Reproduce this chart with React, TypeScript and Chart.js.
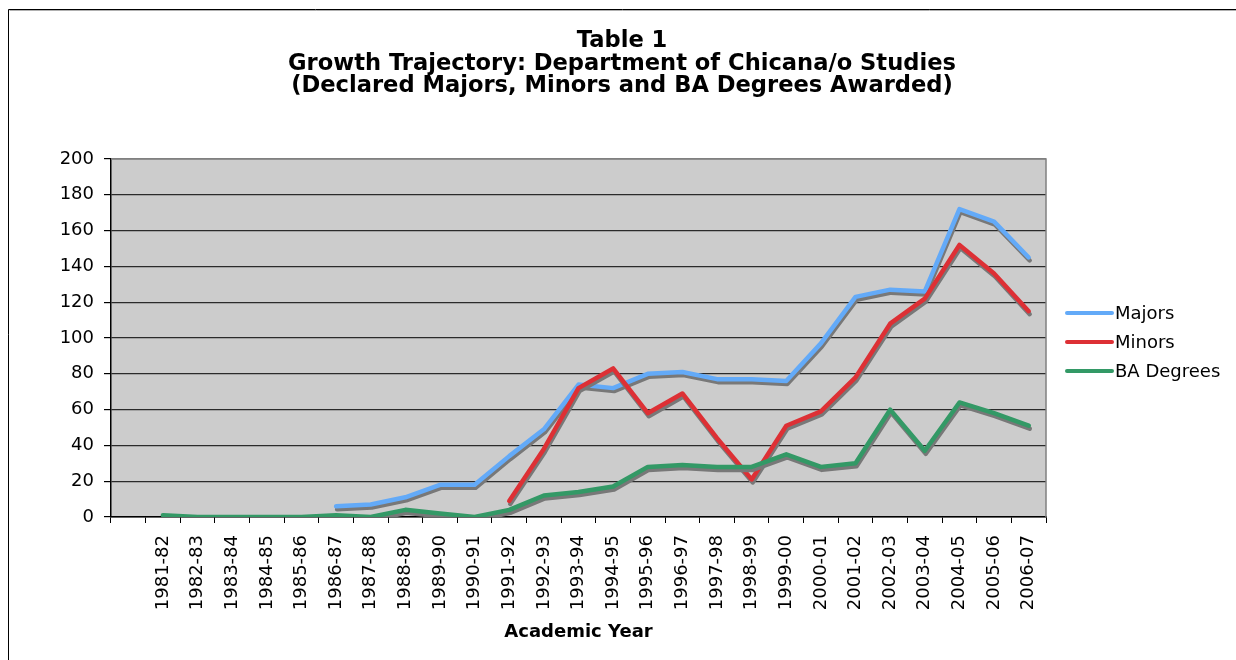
import React, { useEffect, useRef } from "react";
import { Chart, registerables } from "chart.js";

Chart.register(...registerables);

const categories: string[] = [
  "",
  "1981-82", "1982-83", "1983-84", "1984-85", "1985-86", "1986-87", "1987-88",
  "1988-89", "1989-90", "1990-91", "1991-92", "1992-93", "1993-94", "1994-95",
  "1995-96", "1996-97", "1997-98", "1998-99", "1999-00", "2000-01", "2001-02",
  "2002-03", "2003-04", "2004-05", "2005-06", "2006-07",
];

const majors: (number | null)[] = [
  null, null, null, null, null, null,
  6, 7, 11, 18, 18, 34, 49, 74, 72, 80, 81, 77, 77, 76, 97, 123, 127, 126, 172, 165, 145,
];

const minors: (number | null)[] = [
  null, null, null, null, null, null, null, null, null, null, null,
  9, 38, 72, 83, 58, 69, 44, 21, 51, 59, 78, 108, 122, 152, 136, 115,
];

const baDegrees: (number | null)[] = [
  null,
  1, 0, 0, 0, 0, 1, 0, 4, 2, 0, 4, 12, 14, 17, 28, 29, 28, 28, 35, 28, 30, 60, 37, 64, 58, 51,
];

const titleLines: string[] = [
  "Table 1",
  "Growth Trajectory: Department of Chicana/o Studies",
  "(Declared Majors, Minors and BA Degrees Awarded)",
];

const yTicks = { min: 0, max: 200, step: 20 };
const seriesNames = ["Majors", "Minors", "BA Degrees"];
const seriesColors = ["#63aaf8", "#dd3035", "#339966"];

const FONT = "'DejaVu Sans', Verdana, sans-serif";

const W = 1228;
const H = 652;

const framePlugin = {
  id: "frameAndPlot",
  beforeDraw(chart: any) {
    const { ctx, chartArea } = chart;
    ctx.save();
    ctx.fillStyle = "#ffffff";
    ctx.fillRect(0, 0, chart.width, chart.height);
    // outer frame (left/top)
    ctx.strokeStyle = "#000000";
    ctx.lineWidth = 1;
    ctx.beginPath();
    ctx.moveTo(0.5, chart.height);
    ctx.lineTo(0.5, 1.5);
    ctx.lineTo(chart.width, 1.5);
    ctx.stroke();
    ctx.strokeStyle = "#b0b0b0";
    ctx.beginPath();
    ctx.moveTo(1.5, 2.5);
    ctx.lineTo(chart.width, 2.5);
    ctx.stroke();
    // plot background
    ctx.fillStyle = "#cccccc";
    ctx.fillRect(chartArea.left, chartArea.top, chartArea.right - chartArea.left, chartArea.bottom - chartArea.top);
    ctx.restore();
  },
  beforeDatasetsDraw(chart: any) {
    const { ctx, chartArea } = chart;
    ctx.save();
    ctx.strokeStyle = "#808080";
    ctx.lineWidth = 1.5;
    ctx.beginPath();
    ctx.moveTo(chartArea.left, chartArea.top);
    ctx.lineTo(chartArea.right, chartArea.top);
    ctx.lineTo(chartArea.right, chartArea.bottom);
    ctx.stroke();
    ctx.restore();
  },
};

const titlePlugin = {
  id: "centeredTitle",
  afterDraw(chart: any) {
    const ctx = chart.ctx;
    ctx.save();
    ctx.font = `bold 22.6px ${FONT}`;
    ctx.fillStyle = "#000000";
    ctx.textAlign = "center";
    ctx.textBaseline = "middle";
    const cx = chart.width / 2;
    titleLines.forEach((line, i) => {
      ctx.fillText(line, cx, 33.5 + i * 22.5);
    });
    ctx.restore();
  },
};

const shadowPlugin = {
  id: "lineShadow",
  beforeDatasetDraw(chart: any) {
    const ctx = chart.ctx;
    ctx.save();
    ctx.shadowColor = "rgba(120,120,120,1)";
    ctx.shadowOffsetX = 1;
    ctx.shadowOffsetY = 3;
    ctx.shadowBlur = 0;
  },
  afterDatasetDraw(chart: any) {
    chart.ctx.restore();
  },
};

const legendPlugin = {
  id: "sideLegend",
  afterDraw(chart: any) {
    const { ctx, chartArea } = chart;
    const mid = (chartArea.top + chartArea.bottom) / 2;
    const x0 = chartArea.right + 21;
    const lineLen = 45;
    ctx.save();
    ctx.font = `18px ${FONT}`;
    ctx.textBaseline = "middle";
    ctx.textAlign = "left";
    chart.data.datasets.forEach((ds: any, i: number) => {
      const y = mid - 25 + i * 29;
      ctx.strokeStyle = ds.borderColor;
      ctx.lineWidth = 4;
      ctx.lineCap = "round";
      ctx.beginPath();
      ctx.moveTo(x0, y);
      ctx.lineTo(x0 + lineLen, y);
      ctx.stroke();
      ctx.fillStyle = "#000000";
      ctx.fillText(ds.label, x0 + lineLen + 3, y + 1);
    });
    ctx.restore();
  },
};

export default function App() {
  const canvasRef = useRef<HTMLCanvasElement | null>(null);

  useEffect(() => {
    const canvas = canvasRef.current;
    if (!canvas) return;
    const seriesData = [majors, minors, baDegrees];
    const chart = new Chart(canvas, {
      type: "line",
      data: {
        labels: categories,
        datasets: seriesData.map((d, i) => ({
          label: seriesNames[i],
          data: d,
          borderColor: seriesColors[i],
          backgroundColor: seriesColors[i],
          borderWidth: 4.5,
          pointRadius: 0,
          pointHoverRadius: 0,
          tension: 0,
          spanGaps: false,
          fill: false,
          borderJoinStyle: "round" as const,
          borderCapStyle: "round" as const,
          order: 3 - i,
        })),
      },
      options: {
        responsive: false,
        animation: false,
        devicePixelRatio: 1,
        layout: { padding: { left: 0, right: 190, top: 151, bottom: 0 } },
        plugins: {
          legend: { display: false },
          tooltip: { enabled: false },
          title: { display: false },
        },
        scales: {
          x: {
            type: "category",
            offset: true,
            afterFit: (scale: any) => {
              scale.height = 143;
            },
            grid: {
              display: true,
              offset: true,
              drawOnChartArea: false,
              drawTicks: true,
              tickLength: 6,
              tickColor: "#000000",
              color: "#000000",
            },
            border: { display: true, color: "#000000", width: 1.5 },
            ticks: {
              autoSkip: false,
              minRotation: 90,
              maxRotation: 90,
              padding: 12,
              color: "#000000",
              font: { family: FONT, size: 18 },
            },
            title: {
              display: true,
              text: "Academic Year",
              color: "#000000",
              font: { family: FONT, size: 18, weight: "bold" },
              padding: { top: 4, bottom: 17 },
            },
          },
          y: {
            min: yTicks.min,
            max: yTicks.max,
            afterFit: (scale: any) => {
              scale.width = 103;
            },
            ticks: {
              stepSize: yTicks.step,
              padding: 10,
              color: "#000000",
              font: { family: FONT, size: 18 },
            },
            grid: {
              drawTicks: true,
              tickLength: 7,
              tickColor: "#000000",
              lineWidth: 1.2,
              color: (c: any) => (c.tick && c.tick.value === yTicks.max ? "#808080" : "#2a2a2a"),
            },
            border: { display: true, color: "#000000", width: 1.5 },
          },
        },
      },
      plugins: [framePlugin, shadowPlugin, legendPlugin, titlePlugin],
    } as any);
    return () => chart.destroy();
  }, []);

  return (
    <div style={{ position: "absolute", left: 8, top: 8, width: W, height: H }}>
      <canvas ref={canvasRef} width={W} height={H} style={{ display: "block", width: W, height: H }} />
    </div>
  );
}
